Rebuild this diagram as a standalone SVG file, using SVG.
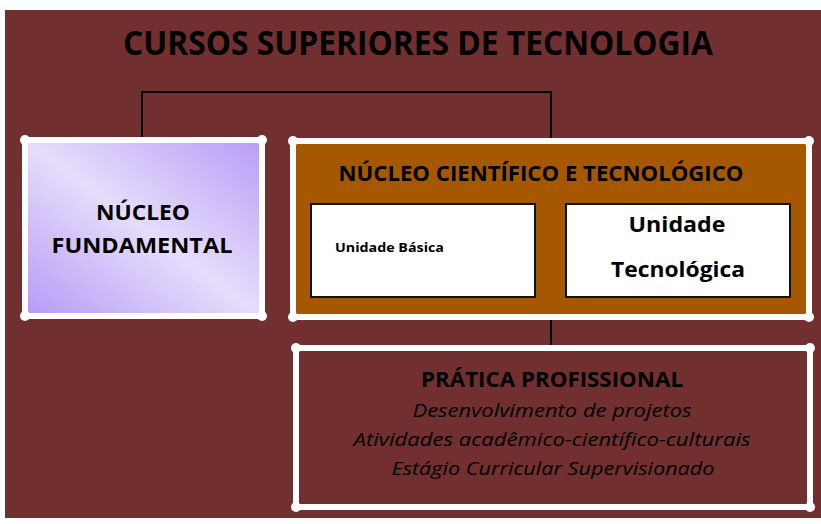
<svg xmlns="http://www.w3.org/2000/svg" width="821" height="524" viewBox="0 0 821 524">
<defs>
<linearGradient id="purp" x1="0" y1="1" x2="1" y2="0">
<stop offset="0" stop-color="#B59AF6"/>
<stop offset="0.5" stop-color="#E6DDFB"/>
<stop offset="1" stop-color="#B79CF7"/>
</linearGradient>
<style>
.b{font-family:"Open Sans","Liberation Sans",sans-serif;font-weight:bold;fill:#000}
.i{font-family:"Open Sans","Liberation Sans",sans-serif;font-style:italic;fill:#000}
.frame{stroke:#fff;stroke-width:6}
.dot{fill:#fff}
.inner{fill:#fff;stroke:#111;stroke-width:2}
.con{stroke:#000;stroke-width:2;fill:none}
</style>
</defs>
<rect x="0" y="0" width="821" height="524" fill="#fff"/>
<rect x="5" y="10" width="816" height="508" fill="#722F2F"/>
<text class="b" x="418" y="55" font-size="34" text-anchor="middle" textLength="590" lengthAdjust="spacingAndGlyphs">CURSOS SUPERIORES DE TECNOLOGIA</text>
<g id="connectors">
<polyline class="con" points="142,138 142,92 551,92 551,141"/>
<line class="con" x1="551" y1="320" x2="551" y2="346"/>
</g>
<g id="nucleo-fundamental">
<rect class="frame" x="25" y="140" width="237" height="176" fill="url(#purp)"/>
<circle class="dot" cx="25" cy="140" r="5"/><circle class="dot" cx="262" cy="140" r="5"/>
<circle class="dot" cx="25" cy="316" r="5"/><circle class="dot" cx="262" cy="316" r="5"/>
<text class="b" x="143" y="220" font-size="22" text-anchor="middle" textLength="94" lengthAdjust="spacingAndGlyphs">NÚCLEO</text>
<text class="b" x="142" y="253" font-size="22" text-anchor="middle" textLength="181" lengthAdjust="spacingAndGlyphs">FUNDAMENTAL</text>
</g>
<g id="nucleo-cientifico">
<rect class="frame" x="293" y="141" width="516" height="176" fill="#A65800"/>
<circle class="dot" cx="293" cy="141" r="5"/><circle class="dot" cx="809" cy="141" r="5"/>
<circle class="dot" cx="293" cy="317" r="5"/><circle class="dot" cx="809" cy="317" r="5"/>
<text class="b" x="541" y="181" font-size="22" text-anchor="middle" textLength="405" lengthAdjust="spacingAndGlyphs">NÚCLEO CIENTÍFICO E TECNOLÓGICO</text>
</g>
<g id="unidade-basica">
<rect class="inner" x="311" y="204" width="224" height="93"/>
<text class="b" x="335" y="252" font-size="13" textLength="109" lengthAdjust="spacingAndGlyphs">Unidade Básica</text>
</g>
<g id="unidade-tecnologica">
<rect class="inner" x="566" y="204" width="224" height="93"/>
<text class="b" x="677" y="232" font-size="22" text-anchor="middle" textLength="97" lengthAdjust="spacingAndGlyphs">Unidade</text>
<text class="b" x="678" y="277" font-size="22" text-anchor="middle" textLength="134" lengthAdjust="spacingAndGlyphs">Tecnológica</text>
</g>
<g id="pratica-profissional">
<rect class="frame" x="296" y="348" width="514" height="159" fill="#722F2F"/>
<circle class="dot" cx="296" cy="348" r="5"/><circle class="dot" cx="810" cy="348" r="5"/>
<circle class="dot" cx="296" cy="507" r="5"/><circle class="dot" cx="810" cy="507" r="5"/>
<text class="b" x="552" y="387" font-size="22" text-anchor="middle" textLength="262" lengthAdjust="spacingAndGlyphs">PRÁTICA PROFISSIONAL</text>
<text class="i" x="552" y="417" font-size="19" text-anchor="middle" textLength="279" lengthAdjust="spacingAndGlyphs">Desenvolvimento de projetos</text>
<text class="i" x="552" y="446" font-size="19" text-anchor="middle" textLength="397" lengthAdjust="spacingAndGlyphs">Atividades acadêmico-científico-culturais</text>
<text class="i" x="553" y="475" font-size="19" text-anchor="middle" textLength="323" lengthAdjust="spacingAndGlyphs">Estágio Curricular Supervisionado</text>
</g>
</svg>
